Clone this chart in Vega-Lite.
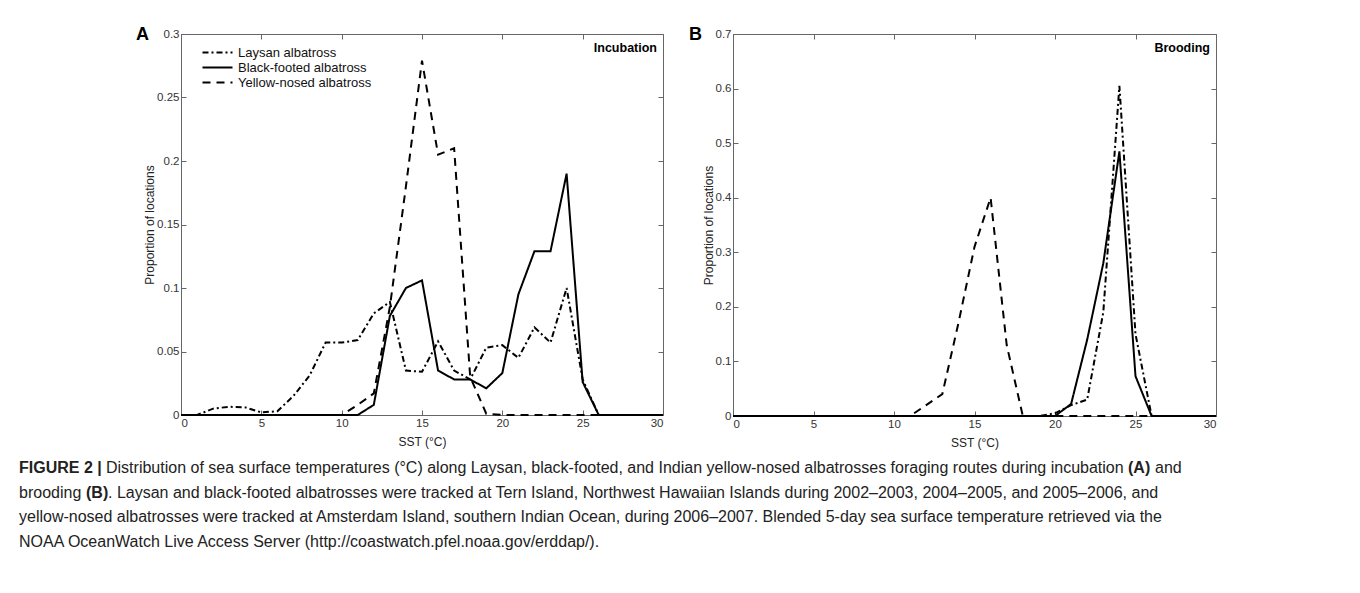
{
  "$schema": "https://vega.github.io/schema/vega-lite/v6.json",
  "background": "white",
  "padding": {"left": 19, "top": 25, "right": 0, "bottom": 0},
  "config": {
    "font": "Liberation Sans",
    "view": {"stroke": "#666", "strokeWidth": 1},
    "axis": {
      "labelFont": "Liberation Sans", "labelFontSize": 11.5, "labelColor": "#333",
      "titleFont": "Liberation Sans", "titleFontSize": 12, "titleFontWeight": "normal", "titleColor": "#222",
      "tickColor": "#666", "domainColor": "#666", "tickSize": -5, "grid": false
    },
    "axisX": {"labelPadding": 7, "titlePadding": 8},
    "axisY": {"labelPadding": 7, "titlePadding": 0},
    "legend": {"labelFont": "Liberation Sans", "labelFontSize": 13, "labelColor": "#111"}
  },
  "datasets": {
    "incubation": [
      {"species": "Laysan albatross", "sst": 0, "p": 0}, {"species": "Laysan albatross", "sst": 1, "p": 0},
      {"species": "Laysan albatross", "sst": 2, "p": 0.005}, {"species": "Laysan albatross", "sst": 3, "p": 0.0065},
      {"species": "Laysan albatross", "sst": 4, "p": 0.006}, {"species": "Laysan albatross", "sst": 5, "p": 0.002},
      {"species": "Laysan albatross", "sst": 6, "p": 0.003}, {"species": "Laysan albatross", "sst": 7, "p": 0.015},
      {"species": "Laysan albatross", "sst": 8, "p": 0.031}, {"species": "Laysan albatross", "sst": 9, "p": 0.057},
      {"species": "Laysan albatross", "sst": 10, "p": 0.057}, {"species": "Laysan albatross", "sst": 11, "p": 0.059},
      {"species": "Laysan albatross", "sst": 12, "p": 0.08}, {"species": "Laysan albatross", "sst": 13, "p": 0.089},
      {"species": "Laysan albatross", "sst": 14, "p": 0.035}, {"species": "Laysan albatross", "sst": 15, "p": 0.034},
      {"species": "Laysan albatross", "sst": 16, "p": 0.058}, {"species": "Laysan albatross", "sst": 17, "p": 0.035},
      {"species": "Laysan albatross", "sst": 18, "p": 0.028}, {"species": "Laysan albatross", "sst": 19, "p": 0.053},
      {"species": "Laysan albatross", "sst": 20, "p": 0.055}, {"species": "Laysan albatross", "sst": 21, "p": 0.045},
      {"species": "Laysan albatross", "sst": 22, "p": 0.069}, {"species": "Laysan albatross", "sst": 23, "p": 0.057},
      {"species": "Laysan albatross", "sst": 24, "p": 0.1}, {"species": "Laysan albatross", "sst": 25, "p": 0.028},
      {"species": "Laysan albatross", "sst": 26, "p": 0}, {"species": "Laysan albatross", "sst": 30, "p": 0},
      {"species": "Black-footed albatross", "sst": 0, "p": 0}, {"species": "Black-footed albatross", "sst": 11, "p": 0},
      {"species": "Black-footed albatross", "sst": 12, "p": 0.008}, {"species": "Black-footed albatross", "sst": 13, "p": 0.078},
      {"species": "Black-footed albatross", "sst": 14, "p": 0.1}, {"species": "Black-footed albatross", "sst": 15, "p": 0.106},
      {"species": "Black-footed albatross", "sst": 16, "p": 0.035}, {"species": "Black-footed albatross", "sst": 17, "p": 0.028},
      {"species": "Black-footed albatross", "sst": 18, "p": 0.028}, {"species": "Black-footed albatross", "sst": 19, "p": 0.021},
      {"species": "Black-footed albatross", "sst": 20, "p": 0.033}, {"species": "Black-footed albatross", "sst": 21, "p": 0.095},
      {"species": "Black-footed albatross", "sst": 22, "p": 0.129}, {"species": "Black-footed albatross", "sst": 23, "p": 0.129},
      {"species": "Black-footed albatross", "sst": 24, "p": 0.19}, {"species": "Black-footed albatross", "sst": 25, "p": 0.026},
      {"species": "Black-footed albatross", "sst": 26, "p": 0}, {"species": "Black-footed albatross", "sst": 30, "p": 0},
      {"species": "Yellow-nosed albatross", "sst": 0, "p": 0}, {"species": "Yellow-nosed albatross", "sst": 10, "p": 0},
      {"species": "Yellow-nosed albatross", "sst": 11, "p": 0.008}, {"species": "Yellow-nosed albatross", "sst": 12, "p": 0.017},
      {"species": "Yellow-nosed albatross", "sst": 13, "p": 0.085}, {"species": "Yellow-nosed albatross", "sst": 14, "p": 0.18},
      {"species": "Yellow-nosed albatross", "sst": 15, "p": 0.279}, {"species": "Yellow-nosed albatross", "sst": 16, "p": 0.205},
      {"species": "Yellow-nosed albatross", "sst": 17, "p": 0.21}, {"species": "Yellow-nosed albatross", "sst": 18, "p": 0.03},
      {"species": "Yellow-nosed albatross", "sst": 19, "p": 0.001}, {"species": "Yellow-nosed albatross", "sst": 20, "p": 0},
      {"species": "Yellow-nosed albatross", "sst": 30, "p": 0}
    ],
    "brooding": [
      {"species": "Laysan albatross", "sst": 0, "p": 0}, {"species": "Laysan albatross", "sst": 19, "p": 0},
      {"species": "Laysan albatross", "sst": 20, "p": 0.005}, {"species": "Laysan albatross", "sst": 21, "p": 0.02},
      {"species": "Laysan albatross", "sst": 22, "p": 0.03}, {"species": "Laysan albatross", "sst": 23, "p": 0.19},
      {"species": "Laysan albatross", "sst": 24, "p": 0.605}, {"species": "Laysan albatross", "sst": 25, "p": 0.15},
      {"species": "Laysan albatross", "sst": 26, "p": 0}, {"species": "Laysan albatross", "sst": 30, "p": 0},
      {"species": "Black-footed albatross", "sst": 0, "p": 0}, {"species": "Black-footed albatross", "sst": 20, "p": 0},
      {"species": "Black-footed albatross", "sst": 21, "p": 0.022}, {"species": "Black-footed albatross", "sst": 22, "p": 0.14},
      {"species": "Black-footed albatross", "sst": 23, "p": 0.28}, {"species": "Black-footed albatross", "sst": 24, "p": 0.485},
      {"species": "Black-footed albatross", "sst": 25, "p": 0.073}, {"species": "Black-footed albatross", "sst": 26, "p": 0},
      {"species": "Black-footed albatross", "sst": 30, "p": 0},
      {"species": "Yellow-nosed albatross", "sst": 0, "p": 0}, {"species": "Yellow-nosed albatross", "sst": 11, "p": 0},
      {"species": "Yellow-nosed albatross", "sst": 12, "p": 0.02}, {"species": "Yellow-nosed albatross", "sst": 13, "p": 0.04},
      {"species": "Yellow-nosed albatross", "sst": 14, "p": 0.17}, {"species": "Yellow-nosed albatross", "sst": 15, "p": 0.31},
      {"species": "Yellow-nosed albatross", "sst": 16, "p": 0.4}, {"species": "Yellow-nosed albatross", "sst": 17, "p": 0.13},
      {"species": "Yellow-nosed albatross", "sst": 18, "p": 0}, {"species": "Yellow-nosed albatross", "sst": 30, "p": 0}
    ],
    "caption": [
      {"line": 1, "part": "fig", "text": "FIGURE 2 |"},
      {"line": 1, "part": "l1a", "text": "Distribution of sea surface temperatures (°C) along Laysan, black-footed, and Indian yellow-nosed albatrosses foraging routes during incubation"},
      {"line": 1, "part": "A", "text": "(A)"},
      {"line": 1, "part": "l1b", "text": "and"},
      {"line": 2, "part": "plain", "text": "brooding"},
      {"line": 2, "part": "B", "text": "(B)"},
      {"line": 2, "part": "l2b", "text": ". Laysan and black-footed albatrosses were tracked at Tern Island, Northwest Hawaiian Islands during 2002–2003, 2004–2005, and 2005–2006, and"},
      {"line": 3, "part": "plain", "text": "yellow-nosed albatrosses were tracked at Amsterdam Island, southern Indian Ocean, during 2006–2007. Blended 5-day sea surface temperature retrieved via the"},
      {"line": 4, "part": "plain", "text": "NOAA OceanWatch Live Access Server (http://coastwatch.pfel.noaa.gov/erddap/)."}
    ]
  },
  "vconcat": [
    {
      "hconcat": [
        {
          "width": 482, "height": 381,
          "title": {"text": "A", "anchor": "start", "frame": "group", "dx": -45, "dy": 16, "offset": 0, "fontSize": 18, "fontWeight": "bold", "color": "#000"},
          "data": {"name": "incubation"},
          "layer": [
            {
              "mark": {"type": "line", "color": "#000", "strokeWidth": 2},
              "encoding": {
                "x": {"field": "sst", "type": "quantitative", "scale": {"domain": [0, 30], "nice": false},
                      "axis": {"values": [0, 5, 10, 15, 20, 25, 30], "title": "SST (°C)"}},
                "y": {"field": "p", "type": "quantitative", "scale": {"domain": [0, 0.3], "nice": false},
                      "axis": {"values": [0, 0.05, 0.1, 0.15, 0.2, 0.25, 0.3], "format": "~g", "title": "Proportion of locations"}},
                "strokeDash": {"field": "species", "type": "nominal",
                  "scale": {"domain": ["Laysan albatross", "Black-footed albatross", "Yellow-nosed albatross"], "range": [[6, 3, 2, 3], [1, 0], [8, 6]]},
                  "legend": {"title": null, "orient": "none", "legendX": 20, "legendY": 12, "symbolType": "M-1,0H5", "symbolSize": 100, "symbolStrokeWidth": 2, "symbolStrokeColor": "#000", "symbolFillColor": "transparent", "rowPadding": 1, "labelOffset": 24}}
              }
            },
            {
              "mark": {"type": "line", "opacity": 0},
              "encoding": {
                "x": {"field": "sst", "type": "quantitative", "axis": {"orient": "top", "values": [0, 5, 10, 15, 20, 25, 30], "labels": false, "domain": false, "title": null}},
                "y": {"field": "p", "type": "quantitative", "axis": {"orient": "right", "values": [0, 0.05, 0.1, 0.15, 0.2, 0.25, 0.3], "labels": false, "domain": false, "title": null}}
              }
            },
            {
              "data": {"values": [{"label": "Incubation"}]},
              "mark": {"type": "text", "fontWeight": "bold", "fontSize": 12.5, "align": "right", "baseline": "middle", "dx": -6, "dy": 14, "color": "#000"},
              "encoding": {
                "x": {"datum": 30, "type": "quantitative", "axis": null},
                "y": {"datum": 0.3, "type": "quantitative", "axis": null},
                "text": {"field": "label"}
              }
            }
          ],
          "resolve": {"axis": {"x": "independent", "y": "independent"}}
        },
        {
          "width": 483, "height": 382,
          "title": {"text": "B", "anchor": "start", "frame": "group", "dx": -44, "dy": 16, "offset": 0, "fontSize": 18, "fontWeight": "bold", "color": "#000"},
          "data": {"name": "brooding"},
          "layer": [
            {
              "mark": {"type": "line", "color": "#000", "strokeWidth": 2},
              "encoding": {
                "x": {"field": "sst", "type": "quantitative", "scale": {"domain": [0, 30], "nice": false},
                      "axis": {"values": [0, 5, 10, 15, 20, 25, 30], "title": "SST (°C)"}},
                "y": {"field": "p", "type": "quantitative", "scale": {"domain": [0, 0.7], "nice": false},
                      "axis": {"values": [0, 0.1, 0.2, 0.3, 0.4, 0.5, 0.6, 0.7], "format": "~g", "title": "Proportion of locations"}},
                "strokeDash": {"field": "species", "type": "nominal",
                  "scale": {"domain": ["Laysan albatross", "Black-footed albatross", "Yellow-nosed albatross"], "range": [[6, 3, 2, 3], [1, 0], [8, 6]]},
                  "legend": {"title": null, "orient": "none", "legendX": 20, "legendY": 12, "symbolType": "M-1,0H5", "symbolSize": 100, "symbolStrokeWidth": 2, "symbolStrokeColor": "#000", "symbolFillColor": "transparent", "rowPadding": 1, "labelOffset": 24}}
              }
            },
            {
              "mark": {"type": "line", "opacity": 0},
              "encoding": {
                "x": {"field": "sst", "type": "quantitative", "axis": {"orient": "top", "values": [0, 5, 10, 15, 20, 25, 30], "labels": false, "domain": false, "title": null}},
                "y": {"field": "p", "type": "quantitative", "axis": {"orient": "right", "values": [0, 0.1, 0.2, 0.3, 0.4, 0.5, 0.6, 0.7], "labels": false, "domain": false, "title": null}}
              }
            },
            {
              "data": {"values": [{"label": "Brooding"}]},
              "mark": {"type": "text", "fontWeight": "bold", "fontSize": 12.5, "align": "right", "baseline": "middle", "dx": -6, "dy": 14, "color": "#000"},
              "encoding": {
                "x": {"datum": 30, "type": "quantitative", "axis": null},
                "y": {"datum": 0.7, "type": "quantitative", "axis": null},
                "text": {"field": "label"}
              }
            }
          ],
          "resolve": {"axis": {"x": "independent", "y": "independent"}}
        }
      ],
      "spacing": 20
    },
    {
      "width": 900, "height": 98,
      "data": {"name": "caption"},
      "view": {"stroke": null},
      "encoding": {"x": {"value": 0}, "y": {"field": "line", "type": "ordinal", "axis": null}, "text": {"field": "text"}},
      "layer": [
        {
          "transform": [{"filter": "datum.part == 'fig'"}],
          "mark": {"type": "text", "align": "left", "baseline": "middle", "fontWeight": "bold", "fontSize": 16, "color": "#222", "dx": -162}
        },
        {
          "transform": [{"filter": "datum.part == 'plain'"}],
          "mark": {"type": "text", "align": "left", "baseline": "middle", "fontSize": 16, "color": "#222", "dx": -162}
        },
        {
          "transform": [{"filter": "datum.part == 'l1a'"}],
          "mark": {"type": "text", "align": "left", "baseline": "middle", "fontSize": 16, "color": "#222", "dx": -75}
        },
        {
          "transform": [{"filter": "datum.part == 'A'"}],
          "mark": {"type": "text", "align": "left", "baseline": "middle", "fontWeight": "bold", "fontSize": 16, "color": "#222", "dx": 947}
        },
        {
          "transform": [{"filter": "datum.part == 'l1b'"}],
          "mark": {"type": "text", "align": "left", "baseline": "middle", "fontSize": 16, "color": "#222", "dx": 974}
        },
        {
          "transform": [{"filter": "datum.part == 'B'"}],
          "mark": {"type": "text", "align": "left", "baseline": "middle", "fontWeight": "bold", "fontSize": 16, "color": "#222", "dx": -95}
        },
        {
          "transform": [{"filter": "datum.part == 'l2b'"}],
          "mark": {"type": "text", "align": "left", "baseline": "middle", "fontSize": 16, "color": "#222", "dx": -73}
        }
      ]
    }
  ],
  "spacing": 7
}
